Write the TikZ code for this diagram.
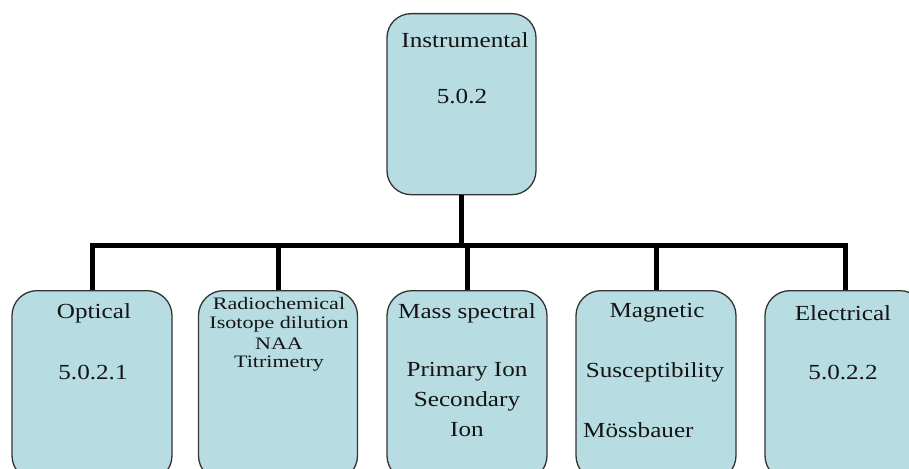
\documentclass[tikz,border=0pt]{standalone}
\usepackage{fontspec}
\setmainfont{Liberation Serif}
\definecolor{boxfill}{HTML}{B7DDE2}
\definecolor{boxline}{HTML}{333333}
\newcommand{\bigtxt}[1]{\scalebox{1.17}[1]{\fontsize{21.5}{21.5}\selectfont #1}}
\newcommand{\smalltxt}[1]{\scalebox{1.26}[1]{\fontsize{17.5}{17.5}\selectfont #1}}
\tikzset{
  catbox/.style={draw=boxline, line width=1.3pt, fill=boxfill, rounded corners=25pt,
    minimum width=160pt, minimum height=190pt, anchor=north, inner sep=0pt},
  topbox/.style={draw=boxline, line width=1.3pt, fill=boxfill, rounded corners=24pt,
    minimum width=149pt, minimum height=181pt, anchor=north, inner sep=0pt},
  conn/.style={line width=5pt, black},
  lbl/.style={inner sep=0pt, text=black!92}
}
\begin{document}
\begin{tikzpicture}[x=1pt, y=-1pt]
\useasboundingbox (0,0) rectangle (909,468);
\clip (0,0) rectangle (909,468);
\fill[white] (0,0) rectangle (909,468);

% boxes
\node[topbox] (top) at (461.5,13) {};
\node[catbox] (b1) at (92,290) {};
\node[catbox, minimum width=159pt] (b2) at (278,290) {};
\node[catbox] (b3) at (467,290) {};
\node[catbox] (b4) at (656,290) {};
\node[catbox] (b5) at (845,290) {};

% connectors
\coordinate (bus) at (461.5,245);
\draw[conn] (top.south) -- (top.south |- bus);
\draw[conn] (b1.north) -- (b1.north |- bus) -- (b5.north |- bus) -- (b5.north);
\draw[conn] (b2.north) -- (b2.north |- bus);
\draw[conn] (b3.north) -- (b3.north |- bus);
\draw[conn] (b4.north) -- (b4.north |- bus);

% labels
\node[lbl] (t1) at (465,40) {\bigtxt{Instrumental}};
\node[lbl] (t2) at (462,97) {\bigtxt{5.0.2}};

\node[lbl] (o1) at (94,313) {\bigtxt{Optical}};
\node[lbl] (o2) at (93,372) {\bigtxt{5.0.2.1}};

\node[lbl] (r1) at (279,304) {\smalltxt{Radiochemical}};
\node[lbl] (r2) at (279,324) {\smalltxt{Isotope dilution}};
\node[lbl] (r3) at (279,344) {\smalltxt{NAA}};
\node[lbl] (r4) at (279,364) {\smalltxt{Titrimetry}};

\node[lbl] (m1) at (467,313) {\bigtxt{Mass spectral}};
\node[lbl] (m2) at (467,372) {\bigtxt{Primary Ion}};
\node[lbl] (m3) at (467,401) {\bigtxt{Secondary}};
\node[lbl] (m4) at (467,430) {\bigtxt{Ion}};

\node[lbl] (g1) at (657,313) {\bigtxt{Magnetic}};
\node[lbl] (g2) at (655,372) {\bigtxt{Susceptibility}};
\node[lbl, anchor=west] (g3) at (583,430) {\bigtxt{Mössbauer}};

\node[lbl] (e1) at (843,313) {\bigtxt{Electrical}};
\node[lbl] (e2) at (843,372) {\bigtxt{5.0.2.2}};
\end{tikzpicture}
\end{document}
